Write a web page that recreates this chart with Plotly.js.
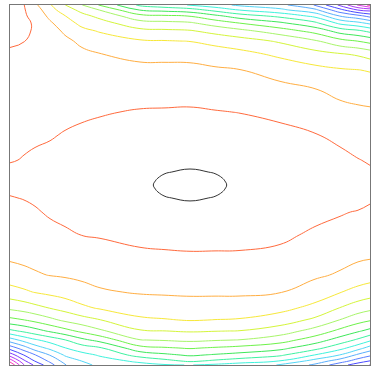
<!DOCTYPE html>
<html><head><meta charset="utf-8">
<script src="https://cdn.plot.ly/plotly-3.0.1.min.js"></script>
<style>html,body{margin:0;padding:0;background:#fff;}#chart{width:371px;height:369px;}</style>
</head><body><div id="chart"></div>
<script>
// grid columns (x) and rows (y) of the sampled field
const xCoords = [10, 24, 35, 50, 65, 82, 100, 140, 165, 190, 215, 240, 280, 315, 340, 358, 370];
const yCoords = [5, 10, 16, 23, 31, 41, 54, 70, 90, 112, 135, 160, 172, 178, 181, 185, 189, 192, 198, 212, 235, 255, 275, 292, 308, 320, 331, 340, 348, 355, 361, 365];
// field values (contour level units), one row per y
const zValues = [
  [0.75, 0.98, 1.8, 2.9, 3.98, 4.98, 6.1, 8.2, 8.62, 9.05, 9.6, 10.2, 10.7, 12.05, 14.2, 16.1, 17.3],
  [0.78, 0.93, 1.5, 2.6, 3.52, 4.28, 5.03, 7.03, 7.3, 7.57, 8.3, 9.03, 9.75, 10.75, 12.67, 14.03, 14.33],
  [0.81, 0.90, 1.25, 2.25, 2.97, 3.72, 4.25, 5.67, 5.85, 6.03, 6.75, 7.5, 8.25, 9.25, 11.03, 11.67, 12.33],
  [0.85, 0.89, 1.06, 1.85, 2.62, 3.24, 3.64, 4.63, 4.75, 4.88, 5.45, 6.03, 6.83, 7.8, 9.25, 9.75, 10.25],
  [0.90, 0.92, 1.05, 1.45, 2.21, 2.78, 3.07, 3.73, 3.82, 3.91, 4.3, 4.71, 5.5, 6.33, 7.4, 7.8, 8.25],
  [0.96, 0.99, 1.1, 1.3, 1.72, 2.28, 2.57, 2.90, 2.96, 3.03, 3.3, 3.58, 4.13, 4.89, 5.67, 6.03, 6.33],
  [1.04, 1.1, 1.15, 1.25, 1.62, 1.72, 1.98, 2.23, 2.25, 2.28, 2.5, 2.71, 3.2, 3.64, 3.93, 4.14, 4.43],
  [1.14, 1.2, 1.2, 1.22, 1.52, 1.6, 1.73, 1.77, 1.77, 1.77, 1.87, 1.98, 2.38, 2.72, 2.9, 2.98, 3.07],
  [1.26, 1.25, 1.2, 1.18, 1.38, 1.42, 1.41, 1.36, 1.35, 1.34, 1.42, 1.51, 1.71, 1.95, 2.26, 2.37, 2.42],
  [1.31, 1.22, 1.15, 1.1, 1.20, 1.13, 1.06, 0.94, 0.92, 0.90, 0.96, 1.02, 1.19, 1.45, 1.7, 1.82, 1.87],
  [1.17, 1.12, 1.06, 1.06, 0.95, 0.85, 0.78, 0.62, 0.57, 0.53, 0.59, 0.65, 0.78, 0.96, 1.21, 1.42, 1.49],
  [1.04, 0.97, 0.94, 0.8, 0.64, 0.55, 0.48, 0.26, 0.19, 0.12, 0.2, 0.27, 0.42, 0.65, 0.77, 0.97, 1.08],
  [0.87, 0.75, 0.64, 0.57, 0.50, 0.41, 0.34, 0.12, 0.015, -0.04, 0.015, 0.11, 0.25, 0.5, 0.58, 0.66, 0.9],
  [0.85, 0.75, 0.65, 0.555, 0.48, 0.395, 0.325, 0.1, -0.039, -0.11, -0.039, 0.095, 0.235, 0.475, 0.565, 0.645, 0.8],
  [0.84, 0.75, 0.655, 0.548, 0.47, 0.388, 0.318, 0.09, -0.057, -0.13, -0.057, 0.087, 0.228, 0.463, 0.558, 0.638, 0.75],
  [0.83, 0.75, 0.66, 0.54, 0.46, 0.38, 0.31, 0.08, -0.07, -0.15, -0.07, 0.08, 0.22, 0.45, 0.55, 0.63, 0.7],
  [0.88, 0.80, 0.71, 0.58, 0.50, 0.42, 0.35, 0.09, -0.057, -0.13, -0.057, 0.087, 0.228, 0.463, 0.558, 0.638, 0.75],
  [0.935, 0.86, 0.765, 0.625, 0.54, 0.46, 0.395, 0.1, -0.039, -0.11, -0.039, 0.095, 0.235, 0.475, 0.565, 0.645, 0.8],
  [1.04, 0.97, 0.87, 0.71, 0.62, 0.54, 0.48, 0.12, 0.015, -0.04, 0.015, 0.11, 0.25, 0.5, 0.58, 0.66, 0.9],
  [1.25, 1.18, 1.09, 0.89, 0.79, 0.72, 0.65, 0.34, 0.22, 0.15, 0.24, 0.33, 0.47, 0.76, 0.93, 1.05, 1.13],
  [1.45, 1.42, 1.38, 1.27, 1.12, 0.99, 0.94, 0.76, 0.7, 0.65, 0.69, 0.73, 0.83, 1.14, 1.3, 1.45, 1.52],
  [1.78, 1.72, 1.68, 1.63, 1.51, 1.4, 1.3, 1.15, 1.11, 1.08, 1.08, 1.08, 1.19, 1.5, 1.67, 1.79, 1.85],
  [2.45, 2.25, 2.1, 1.97, 1.90, 1.8, 1.7, 1.56, 1.53, 1.5, 1.5, 1.5, 1.6, 1.86, 2.1, 2.4, 2.55],
  [3.38, 3.16, 2.95, 2.76, 2.57, 2.33, 2.1, 1.92, 1.88, 1.85, 1.85, 1.85, 1.96, 2.43, 2.95, 3.33, 3.53],
  [4.8, 4.55, 4.3, 3.97, 3.64, 3.2, 2.9, 2.55, 2.48, 2.41, 2.43, 2.45, 2.7, 3.29, 4.03, 4.5, 4.75],
  [6.29, 6.02, 5.71, 5.25, 4.8, 4.4, 4.03, 3.17, 3.06, 2.95, 3.02, 3.08, 3.5, 4.2, 5.03, 5.6, 5.9],
  [8.25, 7.8, 7.4, 6.85, 6.33, 5.77, 5.17, 4.1, 4.01, 3.91, 3.97, 4.03, 4.5, 5.38, 6.25, 6.88, 7.29],
  [10.5, 9.64, 9.14, 8.6, 8.03, 7.25, 6.67, 5.03, 4.92, 4.8, 4.92, 5.03, 5.57, 6.5, 7.43, 8.17, 8.8],
  [12.57, 11.44, 10.5, 9.75, 9.03, 8.47, 8.11, 6.33, 6.1, 5.92, 6.1, 6.29, 6.71, 7.67, 8.67, 9.6, 10.4],
  [14.57, 12.97, 12.05, 10.95, 9.88, 9.33, 8.89, 7.6, 7.2, 6.87, 7.1, 7.33, 7.83, 9.03, 10.03, 11.2, 11.8],
  [16.67, 14.2, 12.95, 11.8, 10.63, 9.98, 9.42, 8.8, 8.3, 7.83, 8.17, 8.5, 9.03, 10.4, 11.5, 12.5, 13.03],
  [18, 15.03, 13.8, 12.4, 11.05, 10.33, 9.75, 9.3, 9.1, 8.97, 9.2, 9.5, 10.05, 11.2, 12.6, 13.5, 14.03]
];
// one colour per contour level (level 0 .. last)
const levelColors = ['#333333', '#ff6a3d', '#ffae42', '#f7e83a', '#d4f53a', '#a8f56a', '#6ef24a', '#3ee85a',
  '#3ef2a0', '#3ef2dc', '#52d6f7', '#5aaefc', '#5a80ff', '#4a4aff', '#7a3aff', '#b03af7', '#e03ae6', '#ff3ab4'];
const nLevels = levelColors.length - 1;
const colorscale = levelColors.map((c, i) => [i / nLevels, c]);

const trace = {
  type: 'contour', x: xCoords, y: yCoords, z: zValues,
  autocontour: false,
  contours: {coloring: 'lines', start: 0, end: nLevels, size: 1, showlabels: false},
  line: {width: 1, smoothing: 1.3},
  colorscale: colorscale, showscale: false, hoverinfo: 'skip'
};
const axisStyle = {showline: true, mirror: true, linecolor: '#777', linewidth: 1,
  showticklabels: false, ticks: '', showgrid: false, zeroline: false};
const layout = {
  width: 371, height: 369, margin: {l: 10, r: 1, t: 5, b: 4},
  paper_bgcolor: '#fff', plot_bgcolor: '#fff', showlegend: false,
  xaxis: Object.assign({range: [10, 370]}, axisStyle),
  yaxis: Object.assign({range: [365, 5]}, axisStyle)
};
Plotly.newPlot('chart', [trace], layout, {staticPlot: true, displayModeBar: false});
</script>
</body></html>
